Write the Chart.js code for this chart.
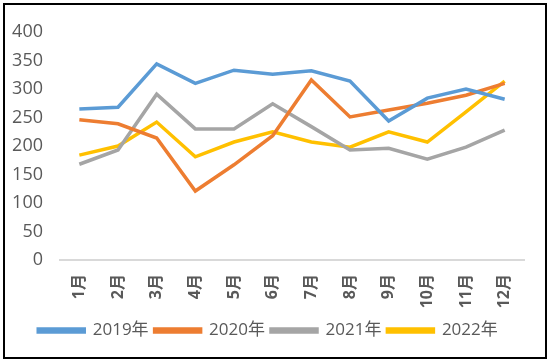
<!DOCTYPE html>
<html>
<head>
<meta charset="utf-8">
<script src="https://cdn.jsdelivr.net/npm/chart.js@4.4.1/dist/chart.umd.min.js"></script>
<style>
  html, body { margin: 0; padding: 0; background: #fff; }
  #wrap { position: relative; width: 550px; height: 363px; }
  #frame { position: absolute; left: 3px; top: 3px; width: 540px; height: 352px; border: 2px solid #000; pointer-events: none; }
</style>
</head>
<body>
<div id="wrap">
  <canvas id="lineChart" width="550" height="363"></canvas>
  <div id="frame"></div>
</div>
<script>
const months = ['1月', '2月', '3月', '4月', '5月', '6月', '7月', '8月', '9月', '10月', '11月', '12月'];
const y2019 = [265, 268, 344, 310, 333, 326, 332, 314, 244, 284, 300, 282];
const y2020 = [246, 239, 214, 121, 167, 218, 316, 251, 263, 275, 289, 310];
const y2021 = [168, 193, 291, 230, 230, 274, 234, 193, 196, 177, 198, 228];
const y2022 = [184, 200, 242, 181, 207, 225, 207, 198, 225, 207, 260, 314];
const yTicks = [0, 50, 100, 150, 200, 250, 300, 350, 400];

const FONT = "'Open Sans', 'Noto Sans CJK SC', sans-serif";
const TEXT = '#595959';

function series(label, data, color) {
    return {
        label: label,
        data: data,
        borderColor: color,
        backgroundColor: color,
        borderWidth: 3.5,
        pointRadius: 0,
        tension: 0,
        fill: false
    };
}

const ctx = document.getElementById('lineChart').getContext('2d');
const chart = new Chart(ctx, {
    type: 'line',
    data: {
        labels: months,
        datasets: [
            series('2019年', y2019, '#5b9bd5'),
            series('2020年', y2020, '#ed7d31'),
            series('2021年', y2021, '#a5a5a5'),
            series('2022年', y2022, '#ffc000')
        ]
    },
    options: {
        responsive: false,
        animation: false,
        layout: { padding: { left: 12, right: 26, top: 32, bottom: 14 } },
        plugins: {
            tooltip: { enabled: false },
            legend: {
                position: 'bottom',
                labels: {
                    color: TEXT,
                    font: { family: FONT, size: 17 },
                    boxWidth: 46,
                    boxHeight: 3,
                    padding: 6
                }
            }
        },
        scales: {
            x: {
                offset: true,
                grid: { display: false, drawTicks: false },
                border: { display: true, color: '#d9d9d9', width: 2 },
                ticks: {
                    color: TEXT,
                    font: { family: FONT, size: 16, weight: 'bold' },
                    minRotation: 90,
                    maxRotation: 90,
                    padding: 14
                },
                afterFit: (s) => { s.height = 56; s.paddingLeft = 0; s.paddingRight = 0; }
            },
            y: {
                min: 0,
                max: 400,
                afterBuildTicks: (axis) => { axis.ticks = yTicks.map(v => ({ value: v })); },
                grid: { display: false, drawTicks: false },
                border: { display: false },
                ticks: {
                    color: TEXT,
                    font: { family: FONT, size: 18 },
                    padding: 17
                },
                afterFit: (s) => { s.width = 48; }
            }
        }
    }
});
</script>
</body>
</html>
